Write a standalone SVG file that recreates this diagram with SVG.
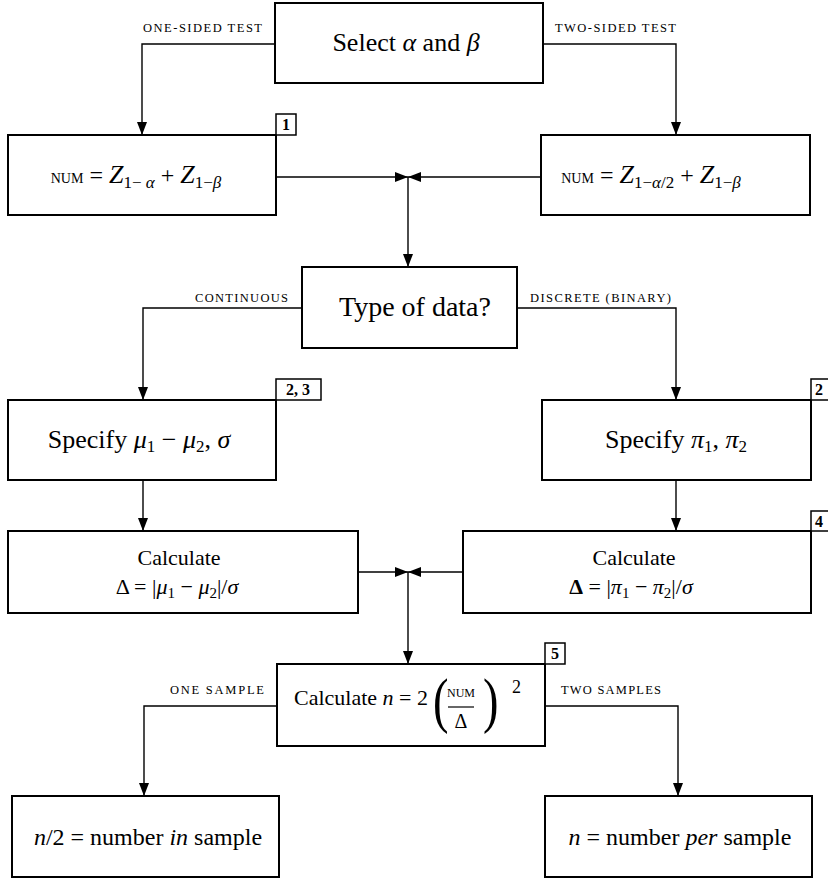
<svg xmlns="http://www.w3.org/2000/svg" width="828" height="879" viewBox="0 0 828 879">
<style>
.box{fill:#fff;stroke:#000;stroke-width:2}
.badge{fill:#fff;stroke:#000;stroke-width:1.5}
.con{fill:none;stroke:#000;stroke-width:1.4}
text{font-family:"Liberation Serif","Times New Roman",serif;fill:#000}
.lbl{font-size:12.5px}
.bt{font-size:16px;font-weight:bold}
.i{font-style:italic}
.m{text-anchor:middle}
</style>
<defs>
<marker id="ah" markerUnits="userSpaceOnUse" markerWidth="13" markerHeight="10" refX="13" refY="5" orient="auto">
<path d="M0,0 L13,5 L0,10 z" fill="#000"/>
</marker>
</defs>
<rect width="828" height="879" fill="#fff"/>
<g id="connectors">
<path class="con" d="M275,44 H142 V135" marker-end="url(#ah)"/>
<path class="con" d="M543,44 H676 V135" marker-end="url(#ah)"/>
<path class="con" d="M276,177 H408" marker-end="url(#ah)"/>
<path class="con" d="M541,177 H408" marker-end="url(#ah)"/>
<path class="con" d="M408,177 V267" marker-end="url(#ah)"/>
<path class="con" d="M302,308 H143 V400" marker-end="url(#ah)"/>
<path class="con" d="M517,308 H676 V400" marker-end="url(#ah)"/>
<path class="con" d="M143,480 V531" marker-end="url(#ah)"/>
<path class="con" d="M676,480 V531" marker-end="url(#ah)"/>
<path class="con" d="M358,572 H408" marker-end="url(#ah)"/>
<path class="con" d="M463,572 H408" marker-end="url(#ah)"/>
<path class="con" d="M408,572 V664" marker-end="url(#ah)"/>
<path class="con" d="M277,706 H144 V796" marker-end="url(#ah)"/>
<path class="con" d="M545,706 H678 V796" marker-end="url(#ah)"/>
<text class="lbl" x="143" y="32" textLength="119" lengthAdjust="spacing">ONE-SIDED TEST</text>
<text class="lbl" x="555" y="32" textLength="121" lengthAdjust="spacing">TWO-SIDED TEST</text>
<text class="lbl" x="195" y="302" textLength="93" lengthAdjust="spacing">CONTINUOUS</text>
<text class="lbl" x="530" y="302" textLength="141" lengthAdjust="spacing">DISCRETE (BINARY)</text>
<text class="lbl" x="170" y="694" textLength="94" lengthAdjust="spacing">ONE SAMPLE</text>
<text class="lbl" x="561" y="694" textLength="100" lengthAdjust="spacing">TWO SAMPLES</text>
</g>
<g id="select">
<rect class="box" x="275" y="3" width="268" height="80"/>
<text class="m" x="406" y="51" font-size="26">Select <tspan class="i">α</tspan> and <tspan class="i">β</tspan></text>
</g>
<g id="num1">
<rect class="box" x="8" y="135" width="268" height="80"/>
<rect class="badge" x="276" y="114" width="20" height="21"/>
<text class="bt m" x="286" y="130">1</text>
<text class="m" x="136" y="183" font-size="24"><tspan font-size="14">NUM</tspan> = <tspan class="i" font-size="26">Z</tspan><tspan font-size="17" dy="5">1− <tspan class="i">α</tspan></tspan><tspan dy="-5"> + </tspan><tspan class="i" font-size="26">Z</tspan><tspan font-size="17" dy="5">1−<tspan class="i">β</tspan></tspan></text>
</g>
<g id="num2">
<rect class="box" x="541" y="135" width="269" height="80"/>
<text class="m" x="651" y="183" font-size="24"><tspan font-size="14">NUM</tspan> = <tspan class="i" font-size="26">Z</tspan><tspan font-size="17" dy="5">1−<tspan class="i">α</tspan>/2</tspan><tspan dy="-5"> + </tspan><tspan class="i" font-size="26">Z</tspan><tspan font-size="17" dy="5">1−<tspan class="i">β</tspan></tspan></text>
</g>
<g id="type">
<rect class="box" x="302" y="267" width="215" height="81"/>
<text class="m" x="415" y="316" font-size="28">Type of data?</text>
</g>
<g id="spec1">
<rect class="box" x="8" y="400" width="268" height="80"/>
<rect class="badge" x="276" y="379" width="45" height="21"/>
<text class="bt m" x="298" y="395">2, 3</text>
<text class="m" x="139" y="448" font-size="26">Specify <tspan class="i">μ</tspan><tspan font-size="17" dy="4">1</tspan><tspan dy="-4"> − </tspan><tspan class="i">μ</tspan><tspan font-size="17" dy="4">2</tspan><tspan dy="-4">, </tspan><tspan class="i">σ</tspan></text>
</g>
<g id="spec2">
<rect class="box" x="542" y="400" width="269" height="80"/>
<rect class="badge" x="811" y="379" width="20" height="21"/>
<text class="bt" x="815" y="395">2</text>
<text class="m" x="676" y="448" font-size="26">Specify <tspan class="i">π</tspan><tspan font-size="17" dy="4">1</tspan><tspan dy="-4">, </tspan><tspan class="i">π</tspan><tspan font-size="17" dy="4">2</tspan></text>
</g>
<g id="calc1">
<rect class="box" x="8" y="531" width="350" height="82"/>
<text class="m" x="179" y="565" font-size="22">Calculate</text>
<text class="m" x="177" y="594" font-size="22">Δ = |<tspan class="i">μ</tspan><tspan font-size="15" dy="4">1</tspan><tspan dy="-4"> − </tspan><tspan class="i">μ</tspan><tspan font-size="15" dy="4">2</tspan><tspan dy="-4">|/</tspan><tspan class="i">σ</tspan></text>
</g>
<g id="calc2">
<rect class="box" x="463" y="531" width="348" height="82"/>
<rect class="badge" x="811" y="511" width="20" height="20"/>
<text class="bt" x="815" y="527">4</text>
<text class="m" x="634" y="565" font-size="22">Calculate</text>
<text class="m" x="631" y="594" font-size="22"><tspan font-weight="bold">Δ</tspan> = |<tspan class="i">π</tspan><tspan font-size="15" dy="4">1</tspan><tspan dy="-4"> − </tspan><tspan class="i">π</tspan><tspan font-size="15" dy="4">2</tspan><tspan dy="-4">|/</tspan><tspan class="i">σ</tspan></text>
</g>
<g id="calcn">
<rect class="box" x="277" y="664" width="268" height="82"/>
<rect class="badge" x="545" y="643" width="20" height="21"/>
<text class="bt m" x="555" y="659">5</text>
<text x="428" y="705" font-size="22" text-anchor="end">Calculate <tspan class="i">n</tspan> = 2</text>
<text transform="translate(433,721) scale(0.75,1)" font-size="62">(</text>
<text class="m" x="461" y="697" font-size="12">NUM</text>
<line x1="448" y1="707" x2="474" y2="707" stroke="#000" stroke-width="1.2"/>
<text class="m" x="461" y="728" font-size="20">Δ</text>
<text transform="translate(483,721) scale(0.75,1)" font-size="62">)</text>
<text x="512" y="693" font-size="18">2</text>
</g>
<g id="one">
<rect class="box" x="12" y="796" width="267" height="81"/>
<text class="m" x="148" y="845" font-size="24"><tspan class="i">n</tspan>/2 = number <tspan class="i">in</tspan> sample</text>
</g>
<g id="two">
<rect class="box" x="545" y="796" width="267" height="81"/>
<text class="m" x="680" y="845" font-size="24"><tspan class="i">n</tspan> = number <tspan class="i">per</tspan> sample</text>
</g>
</svg>
